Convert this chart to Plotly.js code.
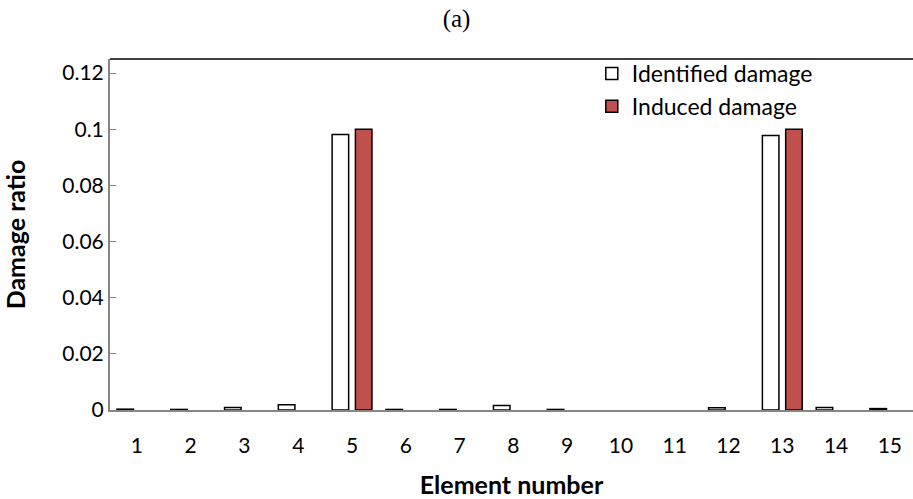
<!DOCTYPE html>
<html>
<head>
<meta charset="utf-8">
<script src="https://cdn.plot.ly/plotly-3.0.1.min.js"></script>
<style>html,body{margin:0;padding:0;overflow:hidden;background:#fff}</style>
</head>
<body>
<div id="chart" style="width:913px;height:499px"></div>
<script>
const elements = ['1','2','3','4','5','6','7','8','9','10','11','12','13','14','15'];
const identified = [0.0003, 0.0002, 0.0009, 0.0019, 0.0981, 0.0002, 0.0002, 0.0016, 0.0002, 0, 0, 0.0008, 0.0978, 0.0009, 0.0005];
const induced = [0, 0, 0, 0, 0.1, 0, 0, 0, 0, 0, 0, 0, 0.1, 0, 0];
const yTicks = [0, 0.02, 0.04, 0.06, 0.08, 0.1, 0.12];
const yTickLabels = ['0', '0.02', '0.04', '0.06', '0.08', '0.1', '0.12'];

// zero-valued bars are not drawn at all (no outline), as in the reference
const visibleBars = vals => vals.map(v => v > 0 ? v : null);

const traces = [
  {type:'bar', name:'Identified damage', x:elements, y:visibleBars(identified),
   marker:{color:'#ffffff', line:{color:'#000000', width:1.5}}},
  {type:'bar', name:'Induced damage', x:elements, y:visibleBars(induced),
   marker:{color:'#c0504d', line:{color:'#000000', width:1.5}}}
];

const layout = {
  width:913, height:499,
  margin:{l:110, r:0, t:59, b:89},
  paper_bgcolor:'#ffffff', plot_bgcolor:'#ffffff',
  font:{family:'Lato, sans-serif', color:'#000000', size:21},
  title:{text:'(a)', font:{family:'Liberation Serif, Times New Roman, serif', size:25, color:'#000'}, x:0.5, xanchor:'center', y:0.963, yanchor:'middle', yref:'container'},
  barmode:'group', bargap:0.134, bargroupgap:0.29,
  showlegend:true,
  legend:{x:0.600, y:1.02, xanchor:'left', yanchor:'top', bgcolor:'rgba(0,0,0,0)', font:{size:23, family:'Lato, sans-serif'}, tracegroupgap:0, itemwidth:30},
  xaxis:{type:'category', range:[-0.5, 14.43], showline:true, linecolor:'#868686', linewidth:2, ticks:'', showgrid:false, zeroline:false,
    tickfont:{size:21}, ticklabelstandoff:16, title:{text:'<b>Element number</b>', font:{size:25}, standoff:20}},
  yaxis:{range:[0, 0.125], tickvals:yTicks, ticktext:yTickLabels, showline:true, linecolor:'#868686', linewidth:2,
    ticks:'inside', ticklen:6, tickcolor:'#868686', tickwidth:1, showgrid:false, zeroline:false,
    tickfont:{size:21}, title:{text:'<b>Damage ratio</b>', font:{size:25}, standoff:30}},
  shapes:[{type:'line', xref:'paper', yref:'paper', x0:0, x1:1, y0:1, y1:1, line:{color:'#000000', width:1.5}}]
};

Plotly.newPlot('chart', traces, layout, {displayModeBar:false, staticPlot:true});
</script>
</body>
</html>
